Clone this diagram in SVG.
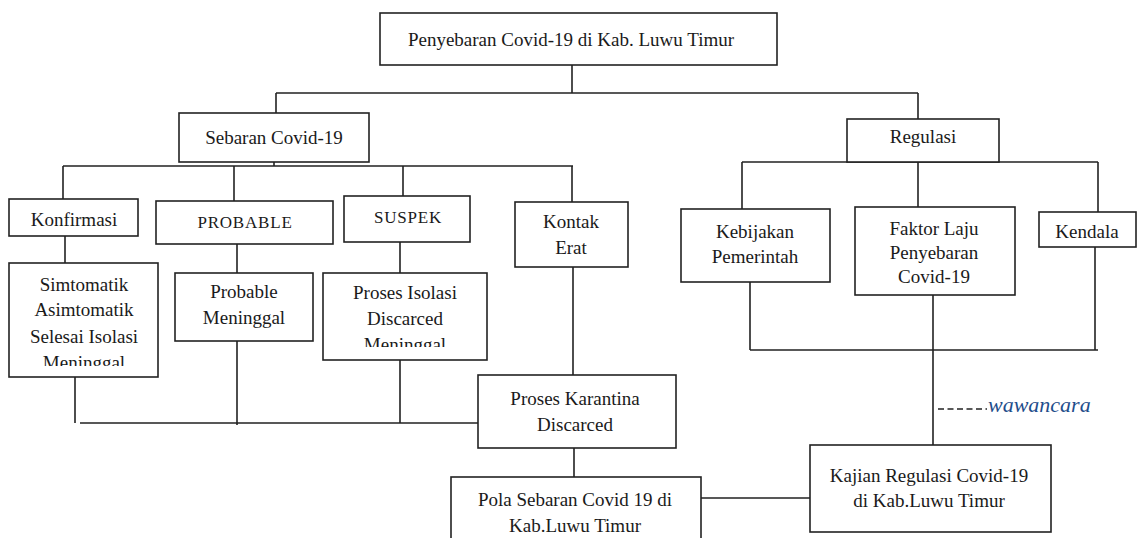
<svg xmlns="http://www.w3.org/2000/svg" width="1137" height="538" viewBox="0 0 1137 538">
<style>
.box{fill:#fff;stroke:#222;stroke-width:1.6}
.ln{fill:none;stroke:#222;stroke-width:1.6}
.t{font-family:"Liberation Serif",serif;font-size:19px;fill:#1a1a1a;text-anchor:middle}
.cap{font-size:17px;letter-spacing:0.8px}
.note{font-family:"Liberation Serif",serif;font-size:22px;font-style:italic;fill:#1f4e8c}
</style>
<defs>
<clipPath id="c1"><rect x="10" y="199" width="127" height="33"/></clipPath>
<clipPath id="c2"><rect x="10" y="263" width="147" height="103"/></clipPath>
<clipPath id="c3"><rect x="324" y="273" width="162" height="74"/></clipPath>
<clipPath id="c4"><rect x="1040" y="212" width="96" height="33"/></clipPath>
</defs>
<rect width="1137" height="538" fill="#fff"/>
<g id="connectors">
<path class="ln" d="M572 65V93M276 93H918M276 93V113M918 93V119"/>
<path class="ln" d="M274 162V166M63 166H573M63 166V199M234 166V201M403 166V196M572 166V202"/>
<path class="ln" d="M65 236V263M237 244V273M400 242V273M573 267V375"/>
<path class="ln" d="M75 377V423M237 341V425M80 423H478M400 360V423"/>
<path class="ln" d="M574 448V477M701 498H810"/>
<path class="ln" d="M742 162H1098M742 162V209M918 162V207M1098 162V212"/>
<path class="ln" d="M750 282V350M750 350H1098M1095 247V350M933 295V445"/>
<path class="ln" d="M938 409H987" stroke-dasharray="6,3.5" stroke-width="1.3"/>
</g>
<g id="n-top"><rect class="box" x="380" y="13" width="397" height="52"/><text class="t" x="571" y="46">Penyebaran Covid-19 di Kab. Luwu Timur</text></g>
<g id="n-sebaran"><rect class="box" x="179" y="113" width="190" height="49"/><text class="t" x="274" y="144">Sebaran Covid-19</text></g>
<g id="n-regulasi"><rect class="box" x="847" y="119" width="152" height="43"/><text class="t" x="923" y="143">Regulasi</text></g>
<g id="n-konfirmasi"><rect class="box" x="9" y="199" width="129" height="37"/><text class="t" x="74" y="226" clip-path="url(#c1)">Konfirmasi</text></g>
<g id="n-probable"><rect class="box" x="156" y="201" width="177" height="43"/><text class="t cap" x="245" y="228">PROBABLE</text></g>
<g id="n-suspek"><rect class="box" x="344" y="196" width="126" height="46"/><text class="t cap" x="408" y="223">SUSPEK</text></g>
<g id="n-kontak"><rect class="box" x="515" y="202" width="113" height="65"/><text class="t" x="571" y="228">Kontak</text><text class="t" x="571" y="254">Erat</text></g>
<g id="n-simtomatik"><rect class="box" x="9" y="263" width="149" height="114"/><g clip-path="url(#c2)"><text class="t" x="84" y="291">Simtomatik</text><text class="t" x="84" y="316">Asimtomatik</text><text class="t" x="84" y="343">Selesai Isolasi</text><text class="t" x="84" y="369">Meninggal</text></g></g>
<g id="n-probmen"><rect class="box" x="175" y="273" width="138" height="68"/><text class="t" x="244" y="298">Probable</text><text class="t" x="244" y="324">Meninggal</text></g>
<g id="n-isolasi"><rect class="box" x="323" y="273" width="164" height="87"/><g clip-path="url(#c3)"><text class="t" x="405" y="299">Proses Isolasi</text><text class="t" x="405" y="325">Discarced</text><text class="t" x="405" y="351">Meninggal</text></g></g>
<g id="n-kebijakan"><rect class="box" x="681" y="209" width="149" height="73"/><text class="t" x="755" y="238">Kebijakan</text><text class="t" x="755" y="263">Pemerintah</text></g>
<g id="n-faktor"><rect class="box" x="855" y="207" width="160" height="88"/><text class="t" x="934" y="235">Faktor Laju</text><text class="t" x="934" y="259">Penyebaran</text><text class="t" x="934" y="283">Covid-19</text></g>
<g id="n-kendala"><rect class="box" x="1039" y="212" width="97" height="35"/><text class="t" x="1087" y="238" clip-path="url(#c4)">Kendala</text></g>
<g id="n-karantina"><rect class="box" x="478" y="375" width="198" height="73"/><text class="t" x="575" y="405">Proses Karantina</text><text class="t" x="575" y="431">Discarced</text></g>
<g id="n-pola"><rect class="box" x="451" y="477" width="250" height="70"/><text class="t" x="575" y="506">Pola Sebaran Covid 19 di</text><text class="t" x="575" y="532">Kab.Luwu Timur</text></g>
<g id="n-kajian"><rect class="box" x="810" y="445" width="241" height="87"/><text class="t" x="929" y="482">Kajian Regulasi Covid-19</text><text class="t" x="929" y="507">di Kab.Luwu Timur</text></g>
<g id="n-wawancara"><text class="note" x="988" y="412">wawancara</text></g>
</svg>
